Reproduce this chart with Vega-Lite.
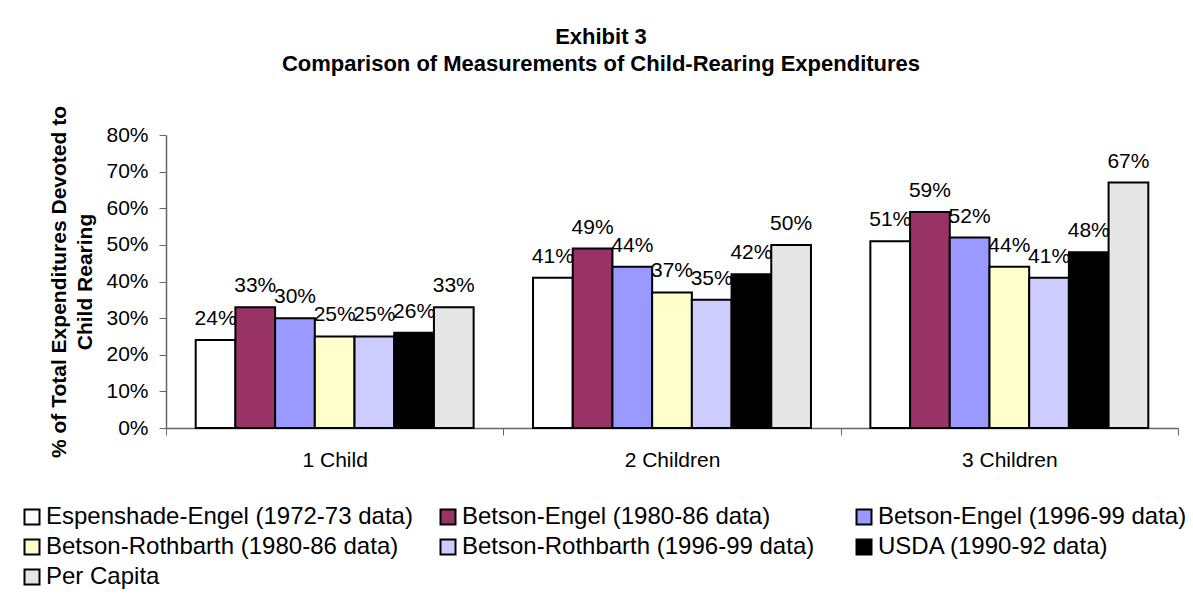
{
  "$schema": "https://vega.github.io/schema/vega-lite/v6.json",
  "width": 1012,
  "height": 293,
  "padding": {"left": 20, "top": 25, "right": 0, "bottom": 0},
  "background": "white",
  "title": {
    "text": ["Exhibit 3", "Comparison of Measurements of Child-Rearing Expenditures"],
    "font": "Liberation Sans",
    "fontSize": 22,
    "fontWeight": "bold",
    "lineHeight": 27,
    "color": "black",
    "anchor": "middle",
    "frame": "group",
    "dx": -71,
    "offset": 30
  },
  "data": {
    "values": [
      {"group": "1 Child", "series": "Espenshade-Engel (1972-73 data)", "value": 0.24},
      {"group": "1 Child", "series": "Betson-Engel (1980-86 data)", "value": 0.33},
      {"group": "1 Child", "series": "Betson-Engel (1996-99 data)", "value": 0.30},
      {"group": "1 Child", "series": "Betson-Rothbarth (1980-86 data)", "value": 0.25},
      {"group": "1 Child", "series": "Betson-Rothbarth (1996-99 data)", "value": 0.25},
      {"group": "1 Child", "series": "USDA (1990-92 data)", "value": 0.26},
      {"group": "1 Child", "series": "Per Capita", "value": 0.33},
      {"group": "2 Children", "series": "Espenshade-Engel (1972-73 data)", "value": 0.41},
      {"group": "2 Children", "series": "Betson-Engel (1980-86 data)", "value": 0.49},
      {"group": "2 Children", "series": "Betson-Engel (1996-99 data)", "value": 0.44},
      {"group": "2 Children", "series": "Betson-Rothbarth (1980-86 data)", "value": 0.37},
      {"group": "2 Children", "series": "Betson-Rothbarth (1996-99 data)", "value": 0.35},
      {"group": "2 Children", "series": "USDA (1990-92 data)", "value": 0.42},
      {"group": "2 Children", "series": "Per Capita", "value": 0.50},
      {"group": "3 Children", "series": "Espenshade-Engel (1972-73 data)", "value": 0.51},
      {"group": "3 Children", "series": "Betson-Engel (1980-86 data)", "value": 0.59},
      {"group": "3 Children", "series": "Betson-Engel (1996-99 data)", "value": 0.52},
      {"group": "3 Children", "series": "Betson-Rothbarth (1980-86 data)", "value": 0.44},
      {"group": "3 Children", "series": "Betson-Rothbarth (1996-99 data)", "value": 0.41},
      {"group": "3 Children", "series": "USDA (1990-92 data)", "value": 0.48},
      {"group": "3 Children", "series": "Per Capita", "value": 0.67}
    ]
  },
  "encoding": {
    "x": {
      "field": "group",
      "type": "nominal",
      "sort": ["1 Child", "2 Children", "3 Children"],
      "scale": {"paddingInner": 0, "paddingOuter": 0},
      "axis": {
        "title": null,
        "labelAngle": 0,
        "tickBand": "extent",
        "labelFont": "Liberation Sans",
        "labelFontSize": 21,
        "labelColor": "black",
        "labelPadding": 14,
        "tickSize": 7,
        "tickColor": "#666666",
        "domainColor": "#666666",
        "domainWidth": 1.5,
        "grid": false
      }
    },
    "xOffset": {
      "field": "series",
      "type": "nominal",
      "sort": ["Espenshade-Engel (1972-73 data)", "Betson-Engel (1980-86 data)", "Betson-Engel (1996-99 data)", "Betson-Rothbarth (1980-86 data)", "Betson-Rothbarth (1996-99 data)", "USDA (1990-92 data)", "Per Capita"],
      "scale": {"paddingInner": 0, "paddingOuter": 0.748}
    },
    "y": {
      "field": "value",
      "type": "quantitative",
      "scale": {"domain": [0, 0.8], "nice": false},
      "axis": {
        "title": ["% of Total Expenditures Devoted to", "Child Rearing"],
        "titleFont": "Liberation Sans",
        "titleFontSize": 21,
        "titleFontWeight": "bold",
        "titleLineHeight": 26,
        "titleColor": "black",
        "titlePadding": 10,
        "values": [0, 0.1, 0.2, 0.3, 0.4, 0.5, 0.6, 0.7, 0.8],
        "format": ".0%",
        "labelFont": "Liberation Sans",
        "labelFontSize": 21,
        "labelColor": "black",
        "labelPadding": 11,
        "tickSize": 7,
        "tickColor": "#666666",
        "domainColor": "#666666",
        "domainWidth": 1.5,
        "grid": false
      }
    }
  },
  "layer": [
    {
      "mark": {"type": "bar", "stroke": "black", "strokeWidth": 2},
      "encoding": {
        "color": {
          "field": "series",
          "type": "nominal",
          "scale": {
            "domain": ["Espenshade-Engel (1972-73 data)", "Betson-Engel (1980-86 data)", "Betson-Engel (1996-99 data)", "Betson-Rothbarth (1980-86 data)", "Betson-Rothbarth (1996-99 data)", "USDA (1990-92 data)", "Per Capita"],
            "range": ["#FFFFFF", "#993366", "#9999FF", "#FFFFCC", "#CCCCFF", "#000000", "#E6E6E6"]
          },
          "legend": {
            "title": null,
            "orient": "none",
            "legendX": -146,
            "legendY": 370,
            "direction": "horizontal",
            "columns": 3,
            "gridAlign": "all",
            "columnPadding": 23,
            "rowPadding": 6,
            "symbolType": "square",
            "symbolSize": 225,
            "symbolStrokeColor": "black",
            "symbolStrokeWidth": 2,
            "symbolOpacity": 1,
            "labelFont": "Liberation Sans",
            "labelFontSize": 24,
            "labelColor": "black",
            "labelOffset": 2,
            "labelLimit": 500
          }
        }
      }
    },
    {
      "mark": {"type": "text", "dy": -15, "baseline": "alphabetic", "font": "Liberation Sans", "fontSize": 21, "color": "black"},
      "encoding": {
        "text": {"field": "value", "type": "quantitative", "format": ".0%"}
      }
    }
  ],
  "config": {
    "view": {"stroke": null}
  }
}
